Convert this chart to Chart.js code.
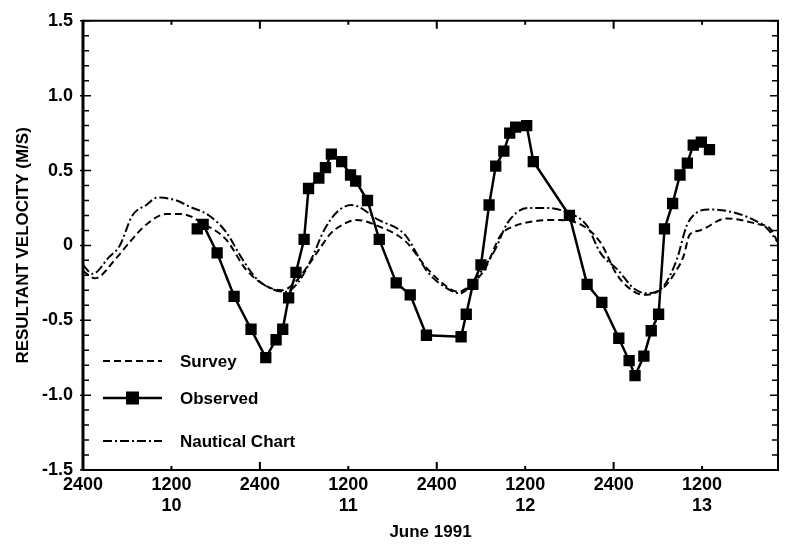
<!DOCTYPE html>
<html><head><meta charset="utf-8">
<script src="https://cdn.jsdelivr.net/npm/chart.js@4.4.0/dist/chart.umd.min.js"></script>
<style>html,body{margin:0;padding:0;background:#fff;}</style>
</head><body>
<canvas id="c" width="786" height="548"></canvas>
<script>
// Hours since 2400 on June 9, 1991
const observedHours  = [15.5, 16.3, 18.2, 20.5, 22.8, 24.8, 26.2, 27.1, 27.9, 28.9, 30.0, 30.6, 32.0, 32.9, 33.7, 35.1, 36.3, 37.0, 38.6, 40.2, 42.5, 44.4, 46.6, 51.3, 52.0, 52.9, 54.0, 55.1, 56.0, 57.1, 57.9, 58.7, 60.2, 61.1, 66.0, 68.4, 70.4, 72.7, 74.1, 74.9, 76.1, 77.1, 78.1, 78.9, 80.0, 81.0, 82.0, 82.8, 83.9, 85.0];
const observedValues = [0.11, 0.14, -0.05, -0.34, -0.56, -0.75, -0.63, -0.56, -0.35, -0.18, 0.04, 0.38, 0.45, 0.52, 0.61, 0.56, 0.47, 0.43, 0.30, 0.04, -0.25, -0.33, -0.60, -0.61, -0.46, -0.26, -0.13, 0.27, 0.53, 0.63, 0.75, 0.79, 0.80, 0.56, 0.20, -0.26, -0.38, -0.62, -0.77, -0.87, -0.74, -0.57, -0.46, 0.11, 0.28, 0.47, 0.55, 0.67, 0.69, 0.64];

const surveyHours  = [0, 1.6, 4.6, 6.3, 8.6, 11.3, 13.1, 14.8, 15.8, 19.4, 22.1, 24.8, 27.0, 28.9, 30.6, 32.0, 33.6, 35.3, 37.1, 40.0, 43.7, 46.8, 49.5, 50.9, 52.7, 54.5, 56.7, 58.6, 61.0, 64.0, 67.5, 70.2, 72.5, 74.8, 76.2, 78.8, 80.6, 81.5, 82.3, 83.7, 87.3, 91.8, 93.1, 94.3];
const surveyValues = [-0.17, -0.22, -0.08, 0.02, 0.14, 0.21, 0.21, 0.19, 0.16, 0.04, -0.16, -0.27, -0.30, -0.24, -0.13, -0.03, 0.08, 0.14, 0.17, 0.13, 0.03, -0.16, -0.28, -0.31, -0.26, -0.16, 0.07, 0.13, 0.16, 0.17, 0.14, 0.02, -0.20, -0.31, -0.33, -0.28, -0.16, -0.07, 0.07, 0.10, 0.18, 0.14, 0.12, 0.02];

const chartHours  = [0, 1.3, 3.5, 5.0, 6.7, 8.6, 10.1, 12.7, 14.4, 17.1, 19.4, 21.6, 23.5, 25.6, 27.5, 29.3, 31.0, 32.7, 34.4, 36.4, 40.1, 43.7, 46.8, 49.5, 51.1, 53.6, 55.9, 57.6, 60.3, 63.0, 65.7, 68.4, 70.2, 72.5, 74.8, 76.5, 78.8, 80.6, 81.9, 83.3, 85.0, 88.3, 91.0, 92.7, 94.3];
const chartValues = [-0.13, -0.19, -0.08, 0.00, 0.20, 0.27, 0.32, 0.30, 0.26, 0.20, 0.09, -0.09, -0.22, -0.29, -0.31, -0.24, -0.09, 0.10, 0.22, 0.27, 0.17, 0.07, -0.18, -0.29, -0.32, -0.20, -0.03, 0.15, 0.25, 0.25, 0.22, 0.13, -0.05, -0.16, -0.29, -0.32, -0.27, -0.09, 0.13, 0.22, 0.24, 0.22, 0.17, 0.12, 0.02];

const xTickHours  = [0, 12, 24, 36, 48, 60, 72, 84];
const xTickLabels = ['2400', '1200', '2400', '1200', '2400', '1200', '2400', '1200'];
const dayLabels   = ['', '10', '', '11', '', '12', '', '13'];
const yTickValues = [-1.5, -1.0, -0.5, 0, 0.5, 1.0, 1.5];
const yTickLabels = ['-1.5', '-1.0', '-0.5', '0', '0.5', '1.0', '1.5'];
const seriesNames = ['Survey', 'Observed', 'Nautical Chart'];
const xTitle = 'June 1991';
const yTitle = 'RESULTANT VELOCITY (M/S)';

const FONT = 'Liberation Sans, Arial, Helvetica, sans-serif';
const zip = (xs, ys) => xs.map((x, i) => ({x: x, y: ys[i]}));

const SURVEY_DASH = [7, 4];
const CHART_DASH = [9, 3, 2, 3];

const framePlugin = {
  id: 'frame',
  afterDraw(chart) {
    const ctx = chart.ctx;
    const a = chart.chartArea;
    const xs = chart.scales.x, ys = chart.scales.y;
    ctx.save();
    ctx.strokeStyle = '#000';
    ctx.lineCap = 'butt';
    ctx.lineWidth = 2;
    ctx.beginPath();
    ctx.moveTo(a.left, a.top); ctx.lineTo(a.right, a.top); ctx.lineTo(a.right, a.bottom); ctx.lineTo(a.left, a.bottom);
    ctx.stroke();
    ctx.lineWidth = 3;
    ctx.beginPath(); ctx.moveTo(a.left, a.top - 1); ctx.lineTo(a.left, a.bottom + 1); ctx.stroke();
    ctx.lineWidth = 1.5;
    for (let i = -15; i <= 15; i++) {
      const v = i / 10;
      const py = ys.getPixelForValue(v);
      const major = (i % 5 === 0);
      ctx.beginPath();
      ctx.moveTo(a.left - (major ? 3 : 0), py); ctx.lineTo(a.left + (major ? 8 : 6), py);
      ctx.moveTo(a.right, py); ctx.lineTo(a.right - (major ? 8 : 6), py);
      ctx.stroke();
    }
    ctx.lineWidth = 2;
    xTickHours.forEach((h, i) => {
      const px = xs.getPixelForValue(h);
      const len = xTickLabels[i] === '2400' ? 8 : 4;
      ctx.beginPath();
      ctx.moveTo(px, a.bottom); ctx.lineTo(px, a.bottom - len);
      ctx.moveTo(px, a.top); ctx.lineTo(px, a.top + len);
      ctx.stroke();
    });
    const lx0 = 103, lx1 = 162, tx = 180;
    const rows = [361, 398, 441];
    ctx.font = 'bold 17px ' + FONT;
    ctx.fillStyle = '#000';
    ctx.textBaseline = 'middle';
    ctx.textAlign = 'left';
    rows.forEach((y, i) => {
      ctx.beginPath();
      ctx.lineWidth = i === 1 ? 2.5 : 2;
      ctx.setLineDash(i === 0 ? SURVEY_DASH : (i === 2 ? CHART_DASH : []));
      ctx.moveTo(lx0, y); ctx.lineTo(lx1, y); ctx.stroke();
      ctx.setLineDash([]);
      if (i === 1) {
        ctx.fillRect((lx0 + lx1) / 2 - 6.5, y - 6.5, 13, 13);
      }
      ctx.fillText(seriesNames[i], tx, y + 1);
    });
    ctx.restore();
  }
};

new Chart(document.getElementById('c'), {
  type: 'line',
  data: {
    datasets: [
      { label: seriesNames[0], data: zip(surveyHours, surveyValues), borderColor: '#000', borderWidth: 2,
        borderDash: SURVEY_DASH, pointRadius: 0, cubicInterpolationMode: 'monotone', fill: false },
      { label: seriesNames[1], data: zip(observedHours, observedValues), borderColor: '#000', borderWidth: 2.5,
        pointStyle: 'rect', pointRadius: 8, pointBackgroundColor: '#000', pointBorderColor: '#000', pointBorderWidth: 0,
        tension: 0, fill: false },
      { label: seriesNames[2], data: zip(chartHours, chartValues), borderColor: '#000', borderWidth: 2,
        borderDash: CHART_DASH, pointRadius: 0, cubicInterpolationMode: 'monotone', fill: false }
    ]
  },
  options: {
    responsive: false,
    animation: false,
    devicePixelRatio: 1,
    layout: { padding: { top: 16, right: 5, left: 0, bottom: 0 } },
    plugins: { legend: { display: false }, tooltip: { enabled: false } },
    scales: {
      x: {
        type: 'linear', min: 0, max: 94.3,
        grid: { display: false, drawTicks: false },
        border: { display: false },
        afterBuildTicks: (s) => { s.ticks = xTickHours.map(v => ({ value: v })); },
        afterFit: (s) => { s.height = 78; },
        ticks: {
          color: '#000', padding: 4, maxRotation: 0, autoSkip: false,
          font: { family: FONT, size: 18, weight: 'bold', lineHeight: 1.2 },
          callback: (v) => {
            const i = xTickHours.indexOf(v);
            if (i < 0) return '';
            return dayLabels[i] ? [xTickLabels[i], dayLabels[i]] : xTickLabels[i];
          }
        },
        title: { display: true, text: xTitle, color: '#000', font: { family: FONT, size: 17, weight: 'bold', lineHeight: 1.2 }, padding: { top: 0, bottom: 5 } }
      },
      y: {
        type: 'linear', min: -1.5, max: 1.5,
        grid: { display: false, drawTicks: false },
        border: { display: false },
        afterBuildTicks: (s) => { s.ticks = yTickValues.map(v => ({ value: v })); },
        afterFit: (s) => { s.width = 83; },
        ticks: {
          color: '#000', padding: 10, autoSkip: false,
          font: { family: FONT, size: 18, weight: 'bold' },
          callback: (v) => { const i = yTickValues.indexOf(v); return i < 0 ? '' : yTickLabels[i]; }
        },
        title: { display: true, text: yTitle, color: '#000', font: { family: FONT, size: 17, weight: 'bold', lineHeight: 1.2 }, padding: { top: 13, bottom: 0 } }
      }
    }
  },
  plugins: [framePlugin]
});
</script>
</body></html>
